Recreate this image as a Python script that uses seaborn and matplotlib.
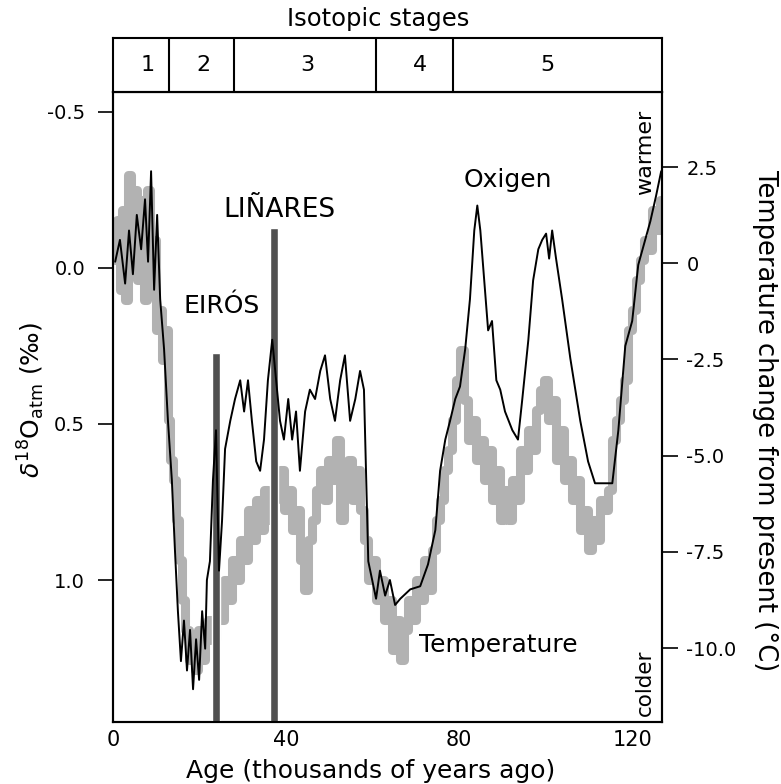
import matplotlib
matplotlib.use("Agg")
import matplotlib.pyplot as plt
import seaborn as sns
import pandas as pd

# Oxygen isotope record (black line), age in kyr, d18O_atm in permil
oxy_age = [0.5, 1.6, 2.8, 3.7, 4.6, 5.5, 6.5, 7.4, 8.1, 8.8, 9.5, 10.2, 10.9, 11.8,
           12.7, 13.6, 14.3, 15.0, 15.7, 16.4, 17.1, 17.8, 18.5, 19.2, 19.9, 20.6,
           21.3, 21.7, 22.4, 23.1, 23.8, 24.5, 25.2, 25.9, 27.1, 28.2, 29.4, 30.3,
           31.2, 32.1, 33.1, 34.0, 34.9, 35.8, 36.8, 37.7, 38.6, 39.5, 40.5, 41.4,
           42.3, 43.2, 44.4, 45.5, 46.7, 47.9, 49.0, 50.2, 51.3, 52.5, 53.6, 54.8,
           56.0, 57.1, 58.0, 59.0, 59.9, 60.8, 61.7, 62.9, 64.0, 65.2, 66.4, 68.7,
           71.0, 72.8, 74.5, 75.6, 76.8, 77.9, 79.1, 80.2, 81.4, 82.5, 83.5, 84.2,
           84.9, 85.8, 86.7, 87.6, 88.6, 89.5, 90.6, 92.3, 93.6, 94.6, 96.0, 97.1,
           98.3, 99.2, 100.1, 100.8, 101.5, 102.4, 103.8, 105.7, 108.0, 109.8,
           111.4, 115.4, 116.8, 118.4, 120.0, 121.4, 123.0, 124.2, 125.5, 126.7]
oxy_val = [-0.02, -0.09, 0.05, -0.12, 0.02, -0.17, -0.06, -0.22, -0.02, -0.31, 0.07,
           -0.17, 0.10, 0.26, 0.49, 0.68, 0.90, 1.10, 1.26, 1.13, 1.29, 1.16, 1.35,
           1.19, 1.32, 1.10, 1.22, 1.00, 0.94, 0.68, 0.52, 0.97, 0.81, 0.58, 0.49,
           0.42, 0.36, 0.46, 0.36, 0.49, 0.62, 0.65, 0.55, 0.36, 0.23, 0.36, 0.49,
           0.55, 0.42, 0.55, 0.46, 0.65, 0.46, 0.39, 0.42, 0.33, 0.28, 0.42, 0.49,
           0.36, 0.28, 0.49, 0.42, 0.33, 0.39, 0.94, 1.00, 1.06, 0.97, 1.05, 1.00,
           1.08, 1.06, 1.03, 1.02, 0.95, 0.84, 0.65, 0.55, 0.49, 0.42, 0.38, 0.26,
           0.10, -0.12, -0.20, -0.12, 0.04, 0.20, 0.17, 0.36, 0.39, 0.46, 0.52, 0.55,
           0.42, 0.23, 0.04, -0.06, -0.09, -0.11, -0.03, -0.12, -0.03, 0.10, 0.29,
           0.49, 0.62, 0.69, 0.69, 0.52, 0.25, 0.17, -0.01, -0.09, -0.15, -0.23, -0.31]

# Temperature change from present (grey band), degC
temp_age = [0.5, 1.2, 1.8, 2.5, 3.2, 3.9, 4.6, 5.3, 6.0, 6.7, 7.4, 8.1, 8.8, 9.5, 10.2,
            10.9, 11.6, 12.3, 12.9, 13.6, 14.3, 15.0, 15.7, 16.4, 17.1, 17.8, 18.7,
            19.4, 20.1, 21.0, 21.7, 22.4, 23.4, 24.3, 25.2, 26.1, 27.1, 28.0, 28.9,
            29.8, 30.8, 31.7, 32.6, 33.5, 34.5, 35.4, 36.3, 37.2, 38.2, 39.1, 40.0,
            40.9, 41.8, 42.8, 43.7, 44.6, 45.5, 46.5, 47.4, 48.3, 49.2, 50.2, 51.1,
            52.0, 52.9, 53.9, 54.8, 55.7, 56.6, 57.6, 58.5, 59.4, 60.3, 61.3, 62.2,
            63.1, 64.0, 65.0, 65.9, 66.8, 67.7, 68.7, 69.6, 70.5, 71.4, 72.4, 73.3,
            74.2, 75.1, 76.1, 77.0, 77.9, 78.8, 79.8, 80.7, 81.6, 82.5, 83.5, 84.4,
            85.3, 86.2, 87.2, 88.1, 89.0, 89.9, 90.9, 91.8, 92.7, 93.6, 94.6, 95.5,
            96.4, 97.3, 98.3, 99.2, 100.1, 101.0, 102.0, 102.9, 103.8, 104.7, 105.7,
            106.6, 107.5, 108.4, 109.4, 110.3, 111.2, 112.1, 113.1, 114.0, 114.9,
            115.8, 116.8, 117.7, 118.6, 119.5, 120.5, 121.4, 122.3, 123.2, 124.2,
            125.1, 126.0, 126.7]
temp_val = [0.08, 1.12, -0.70, 1.38, -0.96, 2.29, 0.34, 1.90, -0.44, 1.64, -0.96, 1.90,
            -0.44, 0.60, -1.74, -1.22, -2.52, -1.74, -4.08, -5.12, -5.64, -6.68, -7.71,
            -8.75, -9.53, -10.31, -9.79, -10.57, -9.53, -10.31, -9.79, -9.27, -9.79,
            -8.75, -9.27, -8.23, -8.75, -7.71, -8.23, -7.19, -7.71, -6.42, -7.19, -6.16,
            -6.94, -5.90, -6.68, -6.16, -5.64, -5.38, -6.42, -5.90, -6.94, -6.42, -7.71,
            -8.49, -7.19, -6.68, -5.90, -5.38, -6.16, -5.12, -5.64, -4.60, -6.68, -5.64,
            -5.12, -6.16, -5.38, -6.42, -7.19, -8.23, -7.71, -8.75, -8.23, -9.27, -8.75,
            -10.05, -9.27, -10.31, -9.53, -8.75, -9.27, -8.23, -8.75, -7.71, -8.49,
            -7.45, -6.68, -6.16, -5.38, -4.86, -4.08, -3.04, -2.26, -3.56, -4.60, -4.08,
            -5.12, -4.60, -5.64, -4.86, -6.16, -5.38, -6.68, -5.90, -6.68, -5.64, -6.16,
            -4.86, -5.38, -4.34, -4.86, -3.82, -3.30, -3.04, -4.08, -3.56, -5.12, -4.34,
            -5.64, -5.12, -6.16, -5.64, -6.94, -6.42, -7.45, -6.68, -7.19, -6.16, -6.42,
            -5.90, -4.60, -4.08, -3.56, -3.04, -1.74, -1.22, -0.44, 0.08, 0.60, 0.34,
            1.38, 0.86, 1.64]

# archaeological sites (dark bars)
site_names = ["EIRÓS", "LIÑARES"]
site_age = [23.8, 37.2]
site_top = [0.272, -0.128]

# isotopic stages
stage_bounds = [12.9, 27.9, 60.7, 78.5]
stage_labels = ["1", "2", "3", "4", "5"]
stage_label_age = [8.0, 21.0, 45.0, 71.0, 100.4]

oxy = pd.DataFrame({"age": oxy_age, "d18O": oxy_val})
temp = pd.DataFrame({"age": temp_age, "T": temp_val})

sns.set_style("white")
plt.rcParams["font.family"] = ["DejaVu Sans"]
plt.rcParams["axes.unicode_minus"] = False
for k in ("text.color", "axes.labelcolor", "xtick.color", "ytick.color"):
    plt.rcParams[k] = "black"

fig = plt.figure(figsize=(7.81, 7.84), dpi=100)
ax = fig.add_axes([0.1447, 0.0791, 0.703, 0.8036])
ax2 = ax.twinx()
top = fig.add_axes([0.1447, 0.8827, 0.703, 0.0689])

xmax = 126.9

# temperature on right axis (drawn underneath)
sns.lineplot(data=temp, x="age", y="T", ax=ax2, color="#b2b2b2", lw=6.5,
             drawstyle="steps-mid", estimator=None, sort=False)
ax2.set_ylim(-11.92, 4.45)
ax2.set_yticks([2.5, 0, -2.5, -5.0, -7.5, -10.0])
ax2.set_yticklabels(["2.5", "0", "-2.5", "-5.0", "-7.5", "-10.0"])
ax2.set_ylabel("")

# site bars + oxygen on left axis
ax.bar(site_age, [1.6 - t for t in site_top], bottom=site_top, width=2.0,
       color="#505050", zorder=2)
sns.lineplot(data=oxy, x="age", y="d18O", ax=ax, color="black", lw=1.4,
             estimator=None, sort=False, zorder=3)
ax.set_zorder(ax2.get_zorder() + 1)
ax.patch.set_visible(False)

ax.set_xlim(0, xmax)
ax.set_ylim(1.455, -0.564)
ax.set_yticks([-0.5, 0.0, 0.5, 1.0])
ax.set_yticklabels(["-0.5", "0.0", "0.5", "1.0"])
ax.set_xticks([0, 40, 80, 120])
ax.set_xticks([20, 60, 100], minor=True)
ax.set_xlabel("")
ax.set_ylabel("")

ax.tick_params(axis="y", direction="out", length=11, width=1.2, pad=9, labelsize=14)
ax.tick_params(axis="x", which="both", direction="in", length=12, width=1.2,
               pad=6, labelsize=15)
ax2.tick_params(axis="y", direction="out", length=11.5, width=1.2, pad=6, labelsize=14)
for a in (ax, ax2):
    for s in a.spines.values():
        s.set_linewidth(1.5)
        s.set_color("black")

# annotations
ax.text(25.0, 0.122, site_names[0], ha="center", va="center", fontsize=18)
ax.text(38.4, -0.186, site_names[1], ha="center", va="center", fontsize=19)
ax.text(91.3, -0.282, "Oxigen", ha="center", va="center", fontsize=18)
ax.text(89.0, 1.208, "Temperature", ha="center", va="center", fontsize=18)
ax.text(123.0, -0.372, "warmer", ha="center", va="center", rotation=90, fontsize=16)
ax.text(123.0, 1.330, "colder", ha="center", va="center", rotation=90, fontsize=15.5)

# stage box
top.set_xlim(0, xmax)
top.set_ylim(0, 1)
for b in stage_bounds:
    top.axvline(b, color="black", lw=1.5)
for lab, age in zip(stage_labels, stage_label_age):
    top.text(age, 0.5, lab, ha="center", va="center", fontsize=16)
top.set_xticks([])
top.set_yticks([])
for s in top.spines.values():
    s.set_linewidth(1.5)
    s.set_color("black")

fig.text(0.484, 0.976, "Isotopic stages", ha="center", va="center", fontsize=17.5)
fig.text(0.474, 0.0166, "Age (thousands of years ago)", ha="center", va="center",
         fontsize=18)
fig.text(0.040, 0.490, r"$\delta^{18}\mathrm{O}_{\mathrm{atm}}$ (‰)", ha="center",
         va="center", rotation=90, fontsize=18)
fig.text(0.979, 0.464, "Temperature change from present (°C)", ha="center",
         va="center", rotation=270, fontsize=18.5)

fig.savefig("out.png", dpi=100)
